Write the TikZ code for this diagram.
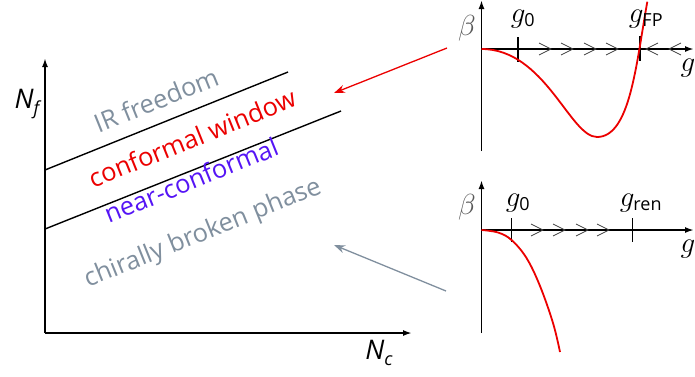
\documentclass[tikz,border=0pt]{standalone}
\usepackage{fix-cm}
\usepackage{fontspec}
\setmainfont{Open Sans}
\usetikzlibrary{arrows.meta}
\definecolor{slate}{RGB}{128,143,158}
\definecolor{nearblue}{RGB}{85,20,245}
\definecolor{plotred}{RGB}{235,0,0}
\tikzset{
  axis/.style={line width=1.8pt,-{Latex[length=9pt,width=6pt]}},
  border/.style={line width=1.4pt},
  curve/.style={plotred,line width=1.8pt},
  tick/.style={line width=1.4pt},
  chev/.style={black!75,line width=0.7pt},
  region/.style={font=\fontsize{25.5}{29}\selectfont,rotate=22,inner sep=0pt},
  lab/.style={font=\fontsize{29}{32}\selectfont,inner sep=0pt},
  pointer/.style={line width=1.3pt,-{Stealth[length=11pt,width=8pt]}}
}
\newcommand{\chevR}[2]{\draw[chev] (#1-6,#2-6) -- (#1+6,#2) -- (#1-6,#2+6);}
\newcommand{\chevL}[2]{\draw[chev] (#1+6,#2-6) -- (#1-6,#2) -- (#1+6,#2+6);}
\newcommand{\subtxt}[1]{\mbox{\fontsize{18}{20}\selectfont #1}}
\begin{document}
\begin{tikzpicture}[x=1pt,y=-1pt]
\useasboundingbox (0,0) rectangle (695,376);
% left diagram
\coordinate (O) at (45,333);
\coordinate (Ytop) at (45,58);
\coordinate (Xend) at (412,333);
\draw[axis] (O) -- (Ytop);
\draw[axis] (O) -- (Xend);
\node[inner sep=0pt,font=\fontsize{27}{30}\selectfont\itshape] (Nf) at (27,104) {N\raisebox{-0.25em}{\fontsize{18}{19}\selectfont f}};
\node[inner sep=0pt,font=\fontsize{27}{30}\selectfont\itshape] (Nc) at (379,353) {N\raisebox{-0.25em}{\fontsize{18}{19}\selectfont c}};
\coordinate (U1) at (45,170);
\coordinate (U2) at (288,72);
\coordinate (L1) at (45,229);
\coordinate (L2) at (341,111);
\draw[border] (U1) -- (U2);
\draw[border] (L1) -- (L2);
\node[region,text=slate] (ir) at (156,100) {IR freedom};
\node[region,text=plotred] (cw) at (192,138) {conformal window};
\node[region,text=nearblue] (nc) at (191,180) {near-conformal};
\node[region,text=slate] (cb) at (203,234) {chirally broken phase};
% top-right plot
\coordinate (A0) at (481.5,49);
\coordinate (Atop) at (481.5,0);
\coordinate (Abot) at (481.5,151);
\coordinate (Aend) at (694,49);
\coordinate (Amin) at (597,137);
\coordinate (Aout) at (647.3,1.7);
\draw[line width=1.8pt] (Abot) -- (A0);
\draw[axis] (A0) -- (Atop);
\draw[axis] (A0) -- (Aend);
\draw[tick] (518,37) -- (518,62);
\draw[tick] (640,36) -- (640,61);
\chevR{545}{49}\chevR{567}{49}\chevR{590}{49}\chevR{612}{49}
\chevL{652}{49}\chevL{675}{49}
\draw[curve] (A0) .. controls (545,49) and (570,137) .. (Amin)
  .. controls (630,137) and (636,65) .. (Aout);
\node[lab,text=black!65] (b1) at (467,28) {$\beta$};
\node[lab] (g01) at (523,19) {$g_{\subtxt{0}}$};
\node[lab] (gfp) at (646,19) {$g_{\subtxt{FP}}$};
\node[lab] (g1) at (688,68) {$g$};
% bottom-right plot
\coordinate (B0) at (481.5,230);
\coordinate (Btop) at (481.5,180);
\coordinate (Bbot) at (481.5,333);
\coordinate (Bend) at (694,230);
\draw[line width=1.8pt] (Bbot) -- (B0);
\draw[axis] (B0) -- (Btop);
\draw[axis] (B0) -- (Bend);
\draw[tick] (511.5,218) -- (511.5,242);
\draw[tick] (632.5,218) -- (632.5,242);
\chevR{537}{230}\chevR{559}{230}\chevR{582}{230}\chevR{603}{230}
\draw[curve] plot[smooth,tension=0.6] coordinates {(481.5,230) (498,232.5) (511.5,240) (526.5,258) (540,286) (553,323) (560,352)};
\node[lab,text=black!65] (b2) at (467,207) {$\beta$};
\node[lab] (g02) at (518,203) {$g_{\subtxt{0}}$};
\node[lab] (gren) at (641,203) {$g_{\subtxt{ren}}$};
\node[lab] (g2) at (688,249) {$g$};
% pointers
\coordinate (P1s) at (447,48);
\coordinate (P1e) at (334,93);
\coordinate (P2s) at (446,291);
\coordinate (P2e) at (334,245);
\draw[pointer,plotred] (P1s) -- (P1e);
\draw[pointer,slate] (P2s) -- (P2e);
\end{tikzpicture}
\end{document}
